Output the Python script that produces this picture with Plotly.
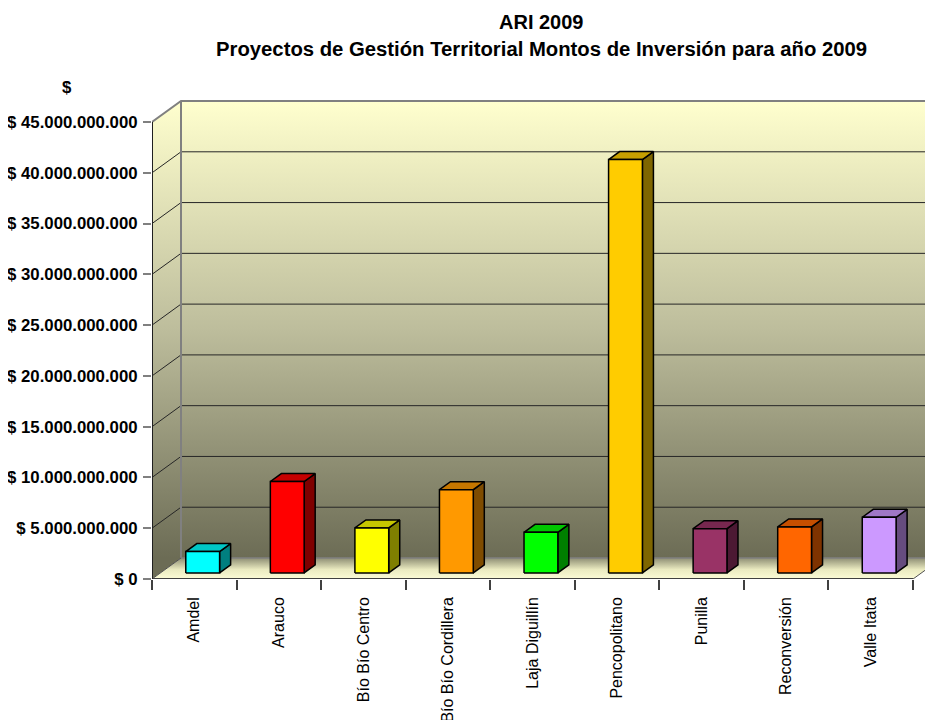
import plotly.graph_objects as go

# ---------------- data ----------------
categories = ["Amdel", "Arauco", "Bío Bío Centro", "Bío Bío Cordillera", "Laja Diguillín",
              "Pencopolitano", "Punilla", "Reconversión", "Valle Itata"]
values = [2.1e9, 9.0e9, 4.43e9, 8.2e9, 4.0e9, 40.7e9, 4.36e9, 4.53e9, 5.48e9]
front_colors = ["#00FFFF", "#FF0000", "#FFFF00", "#FF9900", "#00FF00",
                "#FFCC00", "#993366", "#FF6600", "#CC99FF"]
y_tick_values = [0, 5e9, 10e9, 15e9, 20e9, 25e9, 30e9, 35e9, 40e9, 45e9]
y_tick_labels = ["$ 0", "$ 5.000.000.000", "$ 10.000.000.000", "$ 15.000.000.000",
                 "$ 20.000.000.000", "$ 25.000.000.000", "$ 30.000.000.000",
                 "$ 35.000.000.000", "$ 40.000.000.000", "$ 45.000.000.000"]
title_line1 = "ARI 2009"
title_line2 = "Proyectos de Gestión Territorial Montos de Inversión para año 2009"
y_title = "$"

# ---------------- 3D projection settings ----------------
N = len(categories)
YMAX = y_tick_values[-1]
DX = 0.343          # depth offset along x (category units)
DY = 2.068e9        # depth offset along y (value units)
F1, F2 = 0.29, 0.67  # bar front/back depth fractions
BW = 0.40           # bar width (category units)


def shade(hexc, k):
    h = hexc.lstrip("#")
    r, g, b = (int(h[i:i + 2], 16) for i in (0, 2, 4))
    return "#%02X%02X%02X" % (int(r * k), int(g * k), int(b * k))


fig = go.Figure()


def poly(xs, ys, fill, line_color="black", line_width=1.5, grad=None):
    kw = dict(x=xs + [xs[0]], y=ys + [ys[0]], mode="lines", fill="toself",
              line=dict(color=line_color, width=line_width),
              hoverinfo="skip", showlegend=False)
    if grad is not None:
        kw["fillgradient"] = grad
    else:
        kw["fillcolor"] = fill
    fig.add_trace(go.Scatter(**kw))


def seg(xs, ys, color, width):
    fig.add_trace(go.Scatter(x=xs, y=ys, mode="lines", line=dict(color=color, width=width),
                             hoverinfo="skip", showlegend=False))


wall_scale = [[0, "#6C6C55"], [0.5, "#BDBD9C"], [1, "#FFFFCE"]]
x0 = -0.5
x1 = N - 0.5

# back wall
poly([x0 + DX, x1 + DX, x1 + DX, x0 + DX], [DY, DY, YMAX + DY, YMAX + DY], None,
     line_color="rgba(0,0,0,0)", line_width=0,
     grad=dict(type="vertical", colorscale=wall_scale, start=DY, stop=YMAX + DY))
# left wall
poly([x0, x0 + DX, x0 + DX, x0], [0, DY, YMAX + DY, YMAX], None,
     line_color="rgba(0,0,0,0)", line_width=0,
     grad=dict(type="vertical", colorscale=wall_scale, start=DY, stop=YMAX + DY))
# floor
poly([x0, x1, x1 + DX, x0 + DX], [0, 0, DY, DY], None,
     line_color="rgba(0,0,0,0)", line_width=0,
     grad=dict(type="vertical",
               colorscale=[[0, "#FBFBD6"], [0.45, "#EAEAC0"], [1, "#8E8E74"]],
               start=0, stop=DY))

# gridlines
gx, gy = [], []
for v in y_tick_values[1:-1]:
    gx += [x0, x0 + DX, x1 + DX, None]
    gy += [v, v + DY, v + DY, None]
seg(gx, gy, "#262626", 1)

# wall edges
seg([x0 + DX, x0 + DX], [DY, YMAX + DY], "#808080", 2)
seg([x0, x0 + DX, x1 + DX], [YMAX, YMAX + DY, YMAX + DY], "#808080", 2)
seg([x0 + DX, x1 + DX], [DY, DY], "#808080", 1.5)
seg([x0, x0 + DX], [0, DY], "#505050", 1)
seg([x1, x1 + DX], [0, DY], "#505050", 1)
seg([x0, x1], [0, 0], "#404040", 2)
seg([x0, x0], [0, YMAX], "#202020", 2)

# bars
for i, (v, c) in enumerate(zip(values, front_colors)):
    xl = i - BW / 2 + F1 * DX
    xr = i + BW / 2 + F1 * DX
    b = F1 * DY
    t = b + v
    ddx = (F2 - F1) * DX
    ddy = (F2 - F1) * DY
    # side face
    poly([xr, xr + ddx, xr + ddx, xr], [b, b + ddy, t + ddy, t], shade(c, 0.5))
    # top face
    poly([xl, xr, xr + ddx, xl + ddx], [t, t, t + ddy, t + ddy], shade(c, 0.78))
    # front face
    poly([xl, xr, xr, xl], [b, b, t, t], c)

# The page body has an 8px default margin, so the figure is sized/offset to compensate.
PAGE_OFF = 8
PX_PER_CAT = 84.56
PLOT_W = 933 - 152
FONT = "Liberation Sans, Arial, sans-serif"
fig.update_layout(
    width=933 - PAGE_OFF, height=720 - PAGE_OFF,
    margin=dict(l=152 - PAGE_OFF, r=0, t=100 - PAGE_OFF, b=141, autoexpand=False),
    paper_bgcolor="white", plot_bgcolor="white",
    font=dict(family=FONT, color="black"),
    xaxis=dict(range=[x0, x0 + PLOT_W / PX_PER_CAT], tickmode="array",
               tickvals=list(range(N)), ticktext=categories, tickangle=-90,
               ticks="", showgrid=False, zeroline=False, showline=False,
               automargin=False,
               tickfont=dict(size=16, family=FONT),
               ticklabelstandoff=14,
               minor=dict(tickmode="array", tickvals=[k - 0.5 for k in range(N + 1)],
                          ticks="outside", ticklen=10, tickcolor="#404040", tickwidth=1.5,
                          showgrid=False),
               fixedrange=True),
    yaxis=dict(range=[0, 479 / 10.155 * 1e9], tickmode="array",
               tickvals=y_tick_values, ticktext=y_tick_labels,
               ticks="outside", ticklen=8, tickcolor="#808080", tickwidth=2,
               showgrid=False, zeroline=False, showline=False,
               automargin=False, ticklabelstandoff=2,
               tickfont=dict(size=16.8, family=FONT, weight="bold"),
               fixedrange=True),
    annotations=[
        dict(text="<b>%s</b>" % title_line1, xref="paper", yref="paper", x=0.4985, y=1,
             xanchor="center", yanchor="middle", yshift=78, showarrow=False,
             font=dict(size=20)),
        dict(text="<b>%s</b>" % title_line2, xref="paper", yref="paper", x=0.4985, y=1,
             xanchor="center", yanchor="middle", yshift=51, showarrow=False,
             font=dict(size=20.3)),
        dict(text="<b>%s</b>" % y_title, xref="paper", yref="paper", x=0, y=1,
             xanchor="center", yanchor="middle", xshift=-85, yshift=13, showarrow=False,
             font=dict(size=16.8)),
    ],
)

fig.write_html("out.html")
